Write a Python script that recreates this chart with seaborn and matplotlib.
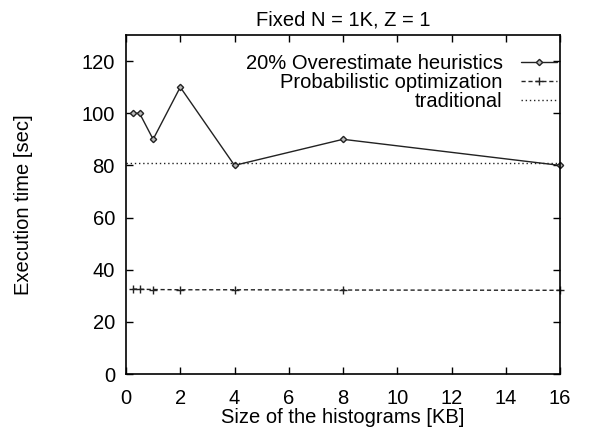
import matplotlib
matplotlib.use("Agg")
import matplotlib.pyplot as plt
import seaborn as sns
import pandas as pd

# Histogram sizes in KB
sizes = [0.25, 0.5, 1, 2, 4, 8, 16]
heuristic_times = [100, 100, 90, 110, 80, 90, 80]
probabilistic_times = [32.6, 32.5, 32.4, 32.3, 32.3, 32.2, 32.1]
traditional_time = 81
x_ticks = [0, 2, 4, 6, 8, 10, 12, 14, 16]
y_ticks = [0, 20, 40, 60, 80, 100, 120]

sns.set_style("ticks")
plt.rcParams["font.family"] = ["Liberation Sans", "DejaVu Sans"]
plt.rcParams["font.size"] = 14.5
plt.rcParams["text.color"] = "black"
plt.rcParams["axes.labelcolor"] = "black"

df_h = pd.DataFrame({"size": sizes, "time": heuristic_times})
df_p = pd.DataFrame({"size": sizes, "time": probabilistic_times})
df_t = pd.DataFrame({"size": [0, 16], "time": [traditional_time] * 2})

fig = plt.figure(figsize=(5.98, 4.33), dpi=100)
ax = fig.add_axes([126 / 598, 59 / 433, 434 / 598, 339 / 433])

ink = "#222222"
sns.lineplot(data=df_h, x="size", y="time", ax=ax, color=ink, lw=1.0,
             marker="D", markersize=3.2, markerfacecolor="#bbbbbb",
             markeredgecolor=ink, markeredgewidth=1.0,
             label="20% Overestimate heuristics", clip_on=False)
sns.lineplot(data=df_p, x="size", y="time", ax=ax, color=ink, lw=1.0,
             marker="+", markersize=6, markeredgewidth=1.0,
             markeredgecolor=ink, label="Probabilistic optimization",
             clip_on=False)
ax.lines[-1].set_dashes([3, 2])
sns.lineplot(data=df_t, x="size", y="time", ax=ax, color=ink, lw=1.0,
             label="traditional")
ax.lines[-1].set_dashes([1, 2])

ax.set_xlim(0, 16)
ax.set_ylim(0, 130)
ax.set_xticks(x_ticks)
ax.set_yticks(y_ticks)
ax.tick_params(direction="in", length=5, width=1, top=True, right=True,
               labelsize=14.5, colors="black")
ax.tick_params(axis="x", pad=11)
ax.tick_params(axis="y", pad=8)
for s in ax.spines.values():
    s.set_linewidth(1.2)
    s.set_color("black")

ax.set_xlabel("Size of the histograms [KB]", fontsize=14.5, labelpad=0)
ax.set_ylabel("Execution time [sec]", fontsize=14.5, labelpad=35)
ax.set_title("Fixed N = 1K, Z = 1", fontsize=14.5, pad=7, color="black")

leg = ax.legend(loc="upper right", bbox_to_anchor=(0.993, 0.944), frameon=False,
                markerfirst=False, handlelength=1.8, handletextpad=0.9,
                labelspacing=0.0, borderpad=0, borderaxespad=0, fontsize=14.5)
for t in leg.get_texts():
    t.set_color("black")

fig.savefig("out.png", dpi=100)
